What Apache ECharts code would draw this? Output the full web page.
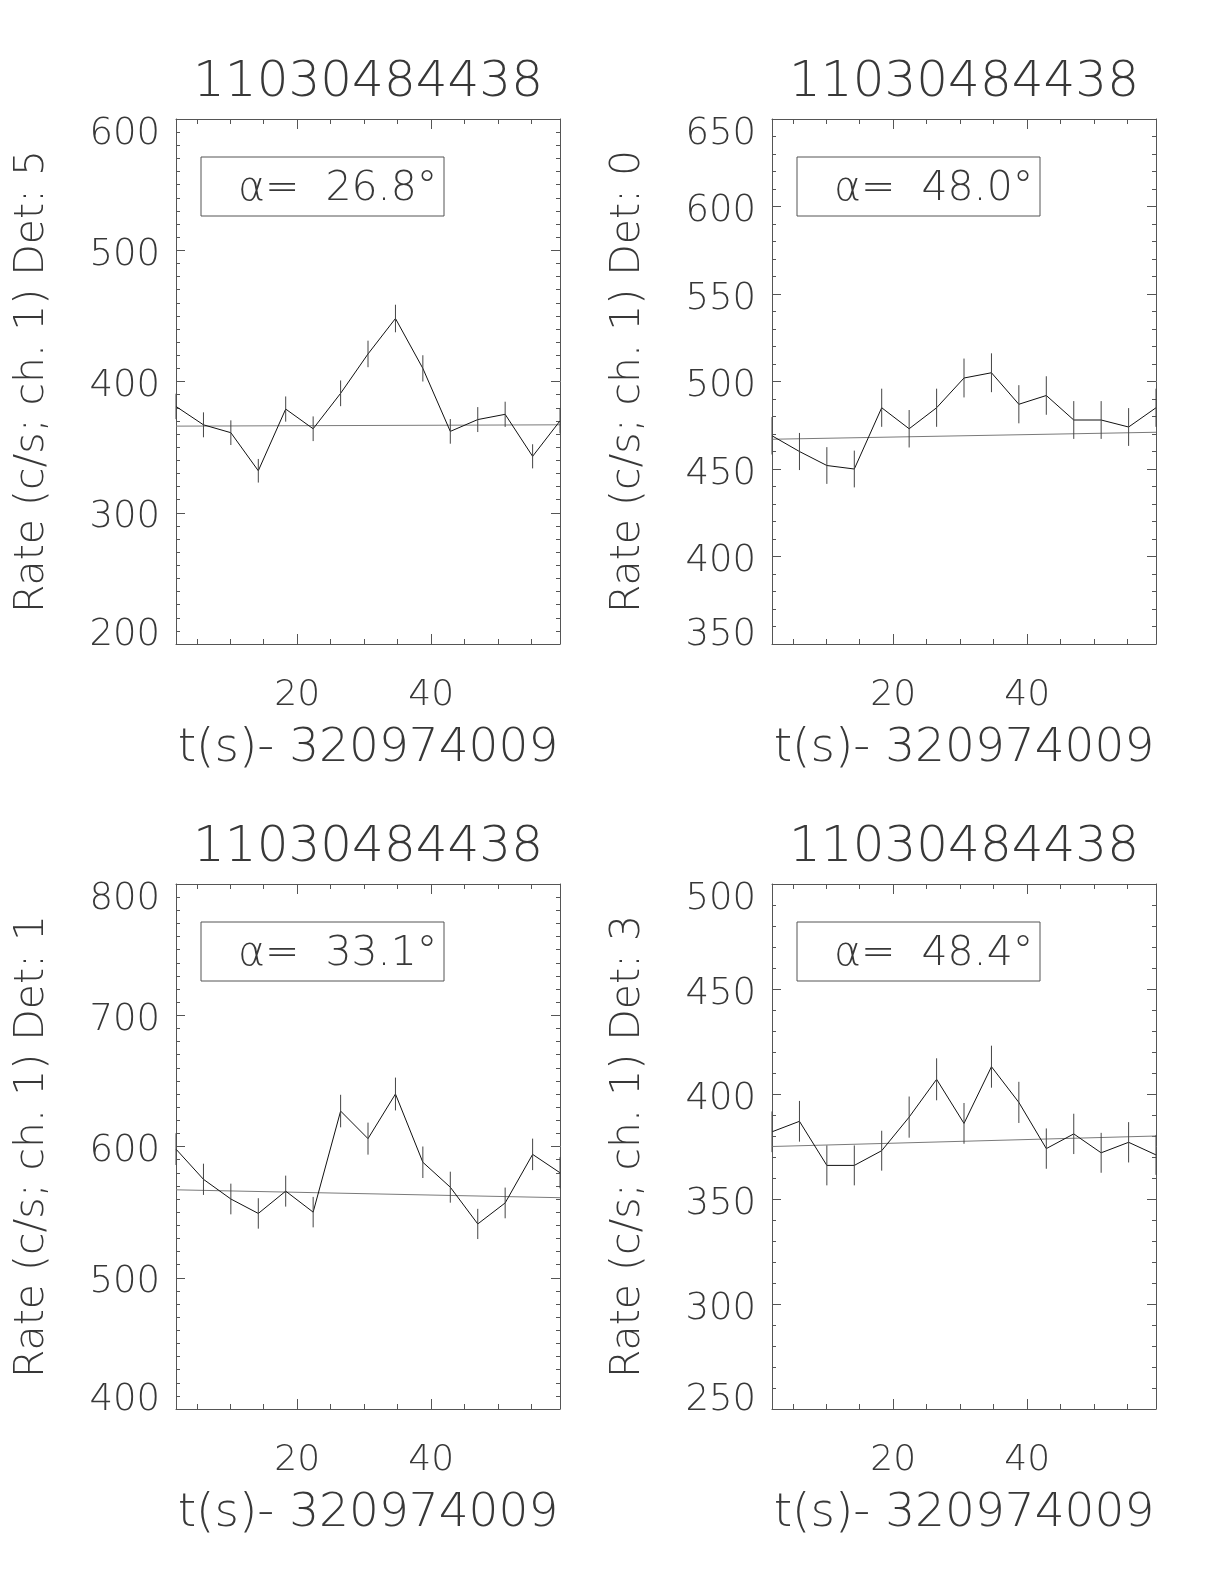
<!DOCTYPE html>
<html><head><meta charset="utf-8">
<script src="https://cdn.jsdelivr.net/npm/echarts@6/dist/echarts.min.js"></script>
<style>html,body{margin:0;padding:0;background:#fff}#c{width:1224px;height:1584px}</style>
</head><body><div id="c"></div>
<script>
// ---- data ----
const titleText = '11030484438';
const xName = 't(s)- 320974009';
const times = [1.9, 6.0, 10.09, 14.19, 18.28, 22.38, 26.48, 30.57, 34.67, 38.76, 42.86, 46.96, 51.05, 55.15, 59.24];

const det5 = [381, 367, 361, 332, 379, 364, 391, 421, 448, 410, 362, 371, 375, 343, 370];
const det5Err = [9.7, 9.5, 9.4, 9.0, 9.6, 9.4, 9.8, 10.1, 10.5, 10.0, 9.4, 9.5, 9.6, 9.2, 9.5];
const det5Fit = [366, 367];

const det0 = [469, 460, 452, 450, 485, 473, 485, 502, 505, 487, 492, 478, 478, 474, 485];
const det0Err = [10.7, 10.6, 10.5, 10.5, 10.9, 10.7, 10.9, 11.1, 11.1, 10.9, 11.0, 10.8, 10.8, 10.8, 10.9];
const det0Fit = [467, 471];

const det1 = [598, 575, 560, 549, 566, 550, 627, 606, 640, 588, 569, 541, 557, 594, 580];
const det1Err = [12.1, 11.9, 11.7, 11.6, 11.8, 11.6, 12.4, 12.2, 12.5, 12.0, 11.8, 11.5, 11.7, 12.0, 11.9];
const det1Fit = [567, 561];

const det3 = [382, 387, 366, 366, 373, 389, 407, 386, 413, 396, 374, 381, 372, 377, 371];
const det3Err = [9.7, 9.7, 9.5, 9.5, 9.5, 9.8, 10.0, 9.7, 10.0, 9.8, 9.6, 9.6, 9.5, 9.6, 9.5];
const det3Fit = [375, 380];

const yNames = ['Rate (c/s; ch. 1) Det: 5', 'Rate (c/s; ch. 1) Det: 0', 'Rate (c/s; ch. 1) Det: 1', 'Rate (c/s; ch. 1) Det: 3'];
const alphaLabels = ['26.8', '48.0', '33.1', '48.4'];
const yMins = [200, 350, 400, 250];
const yMaxs = [600, 650, 800, 500];
const yIntervals = [100, 50, 100, 50];
const yMinorSplits = [10, 5, 10, 5];
const values = [det5, det0, det1, det3];
const errors = [det5Err, det0Err, det1Err, det3Err];
const fits = [det5Fit, det0Fit, det1Fit, det3Fit];

// ---- layout / style ----
const lefts = [176, 772, 176, 772];
const tops = [119, 119, 884, 884];
const W = 384, H = 525;
const FONT = '"DejaVu Sans", "Liberation Sans", sans-serif';
const TXT = '#383838';
const FRAME = '#555';

const chart = echarts.init(document.getElementById('c'), null, {renderer: 'canvas'});

const grid = [], xAxis = [], yAxis = [], series = [], graphic = [];
for (let i = 0; i < 4; i++) {
  grid.push({left: lefts[i], top: tops[i], width: W, height: H, show: false, containLabel: false, outerBoundsMode: 'none'});
  const lineStyle = {color: FRAME, width: 1};
  const xBase = {
    gridIndex: i, type: 'value', min: times[0], max: times[times.length - 1], splitNumber: 3,
    axisLine: {show: true, onZero: false, lineStyle},
    axisTick: {show: true, inside: true, length: 10, lineStyle},
    minorTick: {show: true, splitNumber: 4, length: 5, lineStyle},
    splitLine: {show: false}, minorSplitLine: {show: false}
  };
  xAxis.push(Object.assign({}, xBase, {
    position: 'bottom',
    axisLabel: {show: true, showMinLabel: false, showMaxLabel: false, margin: 34, fontSize: 36, fontFamily: FONT, fontWeight: 200, color: TXT},
    name: xName, nameLocation: 'middle', nameGap: 81, nameMoveOverlap: false,
    nameTextStyle: {fontSize: 47, fontFamily: FONT, fontWeight: 200, color: TXT}
  }));
  xAxis.push(Object.assign({}, xBase, {position: 'top', axisLabel: {show: false}}));

  const mn = yMins[i], mx = yMaxs[i];
  const richBase = {fontSize: 37, fontFamily: FONT, fontWeight: 200, color: TXT};
  const yBase = {
    gridIndex: i, type: 'value', min: mn, max: mx, interval: yIntervals[i],
    axisLine: {show: true, onZero: false, lineStyle},
    axisTick: {show: true, inside: true, length: 9, lineStyle},
    minorTick: {show: true, splitNumber: yMinorSplits[i], length: 4, lineStyle},
    splitLine: {show: false}, minorSplitLine: {show: false}
  };
  yAxis.push(Object.assign({}, yBase, {
    position: 'left',
    axisLabel: {
      show: true, margin: 16, showMinLabel: true, showMaxLabel: true,
      fontSize: 37, fontFamily: FONT, fontWeight: 200, color: TXT,
      formatter: function (v) {
        if (v === mx) return '{t|' + v + '}';
        if (v === mn) return '{b|' + v + '}';
        return '{m|' + v + '}';
      },
      rich: {
        t: Object.assign({padding: [30, 0, 0, 0]}, richBase),
        b: Object.assign({padding: [0, 0, 18, 0]}, richBase),
        m: Object.assign({padding: [10, 0, 0, 0]}, richBase)
      }
    },
    name: yNames[i], nameLocation: 'middle', nameGap: 123, nameRotate: 90, nameMoveOverlap: false,
    nameTextStyle: {fontSize: 41, fontFamily: FONT, fontWeight: 200, color: TXT}
  }));
  yAxis.push(Object.assign({}, yBase, {position: 'right', axisLabel: {show: false}}));

  const xi = 2 * i, yi = 2 * i;
  const vals = values[i], errs = errors[i], fit = fits[i];
  series.push({
    type: 'line', xAxisIndex: xi, yAxisIndex: yi, symbol: 'none', silent: true, z: 3,
    lineStyle: {color: '#111', width: 1},
    data: times.map((t, k) => [t, vals[k]])
  });
  series.push({
    type: 'line', xAxisIndex: xi, yAxisIndex: yi, symbol: 'none', silent: true, z: 2,
    lineStyle: {color: '#7a7a7a', width: 1},
    data: [[times[0], fit[0]], [times[times.length - 1], fit[1]]]
  });
  series.push({
    type: 'custom', xAxisIndex: xi, yAxisIndex: yi, silent: true, z: 4,
    encode: {x: 0, y: [1, 2]},
    data: times.map((t, k) => [t, vals[k] - errs[k], vals[k] + errs[k]]),
    renderItem: function (params, api) {
      const a = api.coord([api.value(0), api.value(1)]);
      const b = api.coord([api.value(0), api.value(2)]);
      return {type: 'line', shape: {x1: a[0], y1: a[1], x2: b[0], y2: b[1]}, style: {stroke: '#444', lineWidth: 1}};
    }
  });

  // title above each panel
  graphic.push({
    type: 'text', x: lefts[i] + W / 2, y: tops[i] - 36, silent: true,
    style: {text: titleText, fontSize: 50, fontFamily: FONT, fontWeight: 200, fill: TXT, align: 'center', verticalAlign: 'middle'}
  });
  // alpha annotation box
  graphic.push({
    type: 'rect', x: lefts[i] + 25, y: tops[i] + 38, silent: true,
    shape: {x: 0, y: 0, width: 243, height: 59},
    style: {fill: 'none', stroke: FRAME, lineWidth: 1}
  });
  graphic.push({
    type: 'text', x: lefts[i] + 62, y: tops[i] + 70, silent: true,
    style: {
      text: 'α=  ' + alphaLabels[i] + '°', fontSize: 41, fontFamily: FONT, fontWeight: 200, fill: TXT,
      align: 'left', verticalAlign: 'middle'
    }
  });
}

chart.setOption({
  animation: false,
  backgroundColor: '#fff',
  grid, xAxis, yAxis, series, graphic
});
</script>
</body></html>
